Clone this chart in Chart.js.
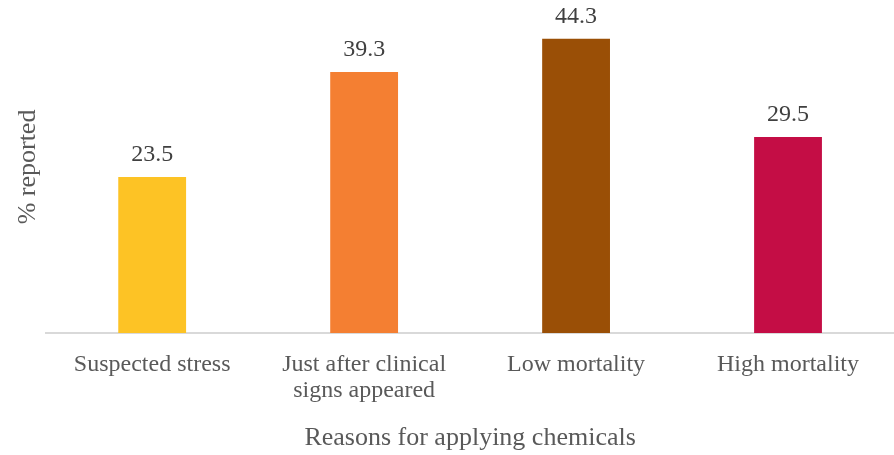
<!DOCTYPE html>
<html>
<head>
<meta charset="utf-8">
<script src="https://cdn.jsdelivr.net/npm/chart.js@4/dist/chart.umd.min.js"></script>
<style>
  html, body { margin: 0; padding: 0; background: #ffffff; }
  #wrap { width: 894px; height: 455px; }
</style>
</head>
<body>
<div id="wrap"><canvas id="c" width="894" height="455"></canvas></div>
<script>
// Reasons farmers gave for applying chemicals, share of respondents (%)
const categories = [
  "Suspected stress",
  ["Just after clinical", "signs appeared"],
  "Low mortality",
  "High mortality"
];
const percentReported = [23.5, 39.3, 44.3, 29.5];
const barColors = ["#FDC325", "#F47F32", "#9A4F06", "#C40D45"];

const serif = "'Liberation Serif', 'Times New Roman', serif";

// Writes each bar's value just above it
const valueLabels = {
  id: "valueLabels",
  afterDatasetsDraw(chart) {
    const ctx = chart.ctx;
    const meta = chart.getDatasetMeta(0);
    ctx.save();
    ctx.font = "24px " + serif;
    ctx.fillStyle = "#404040";
    ctx.textAlign = "center";
    ctx.textBaseline = "alphabetic";
    meta.data.forEach((bar, i) => {
      ctx.fillText(percentReported[i].toFixed(1), bar.x, bar.y - 16);
    });
    ctx.restore();
  }
};

new Chart(document.getElementById("c"), {
  type: "bar",
  data: {
    labels: categories,
    datasets: [{
      data: percentReported,
      backgroundColor: barColors,
      barPercentage: 0.64,
      categoryPercentage: 0.5
    }]
  },
  options: {
    responsive: false,
    animation: false,
    layout: { padding: { top: 1, right: 0, bottom: 1, left: 13 } },
    plugins: {
      legend: { display: false },
      tooltip: { enabled: false }
    },
    scales: {
      x: {
        grid: { display: false, drawTicks: false },
        border: { color: "#D9D9D9", width: 2 },
        ticks: {
          color: "#595959",
          font: { family: serif, size: 24, lineHeight: 1.08 },
          padding: 19,
          maxRotation: 0
        },
        title: {
          display: true,
          text: "Reasons for applying chemicals",
          color: "#595959",
          font: { family: serif, size: 26 },
          padding: { top: 0, bottom: 0 }
        }
      },
      y: {
        min: 0,
        max: 50,
        grid: { display: false, drawTicks: false },
        border: { display: false },
        ticks: { display: false },
        title: {
          display: true,
          text: "% reported",
          color: "#595959",
          font: { family: serif, size: 26 },
          padding: { top: 0, bottom: 2 }
        }
      }
    }
  },
  plugins: [valueLabels]
});
</script>
</body>
</html>
